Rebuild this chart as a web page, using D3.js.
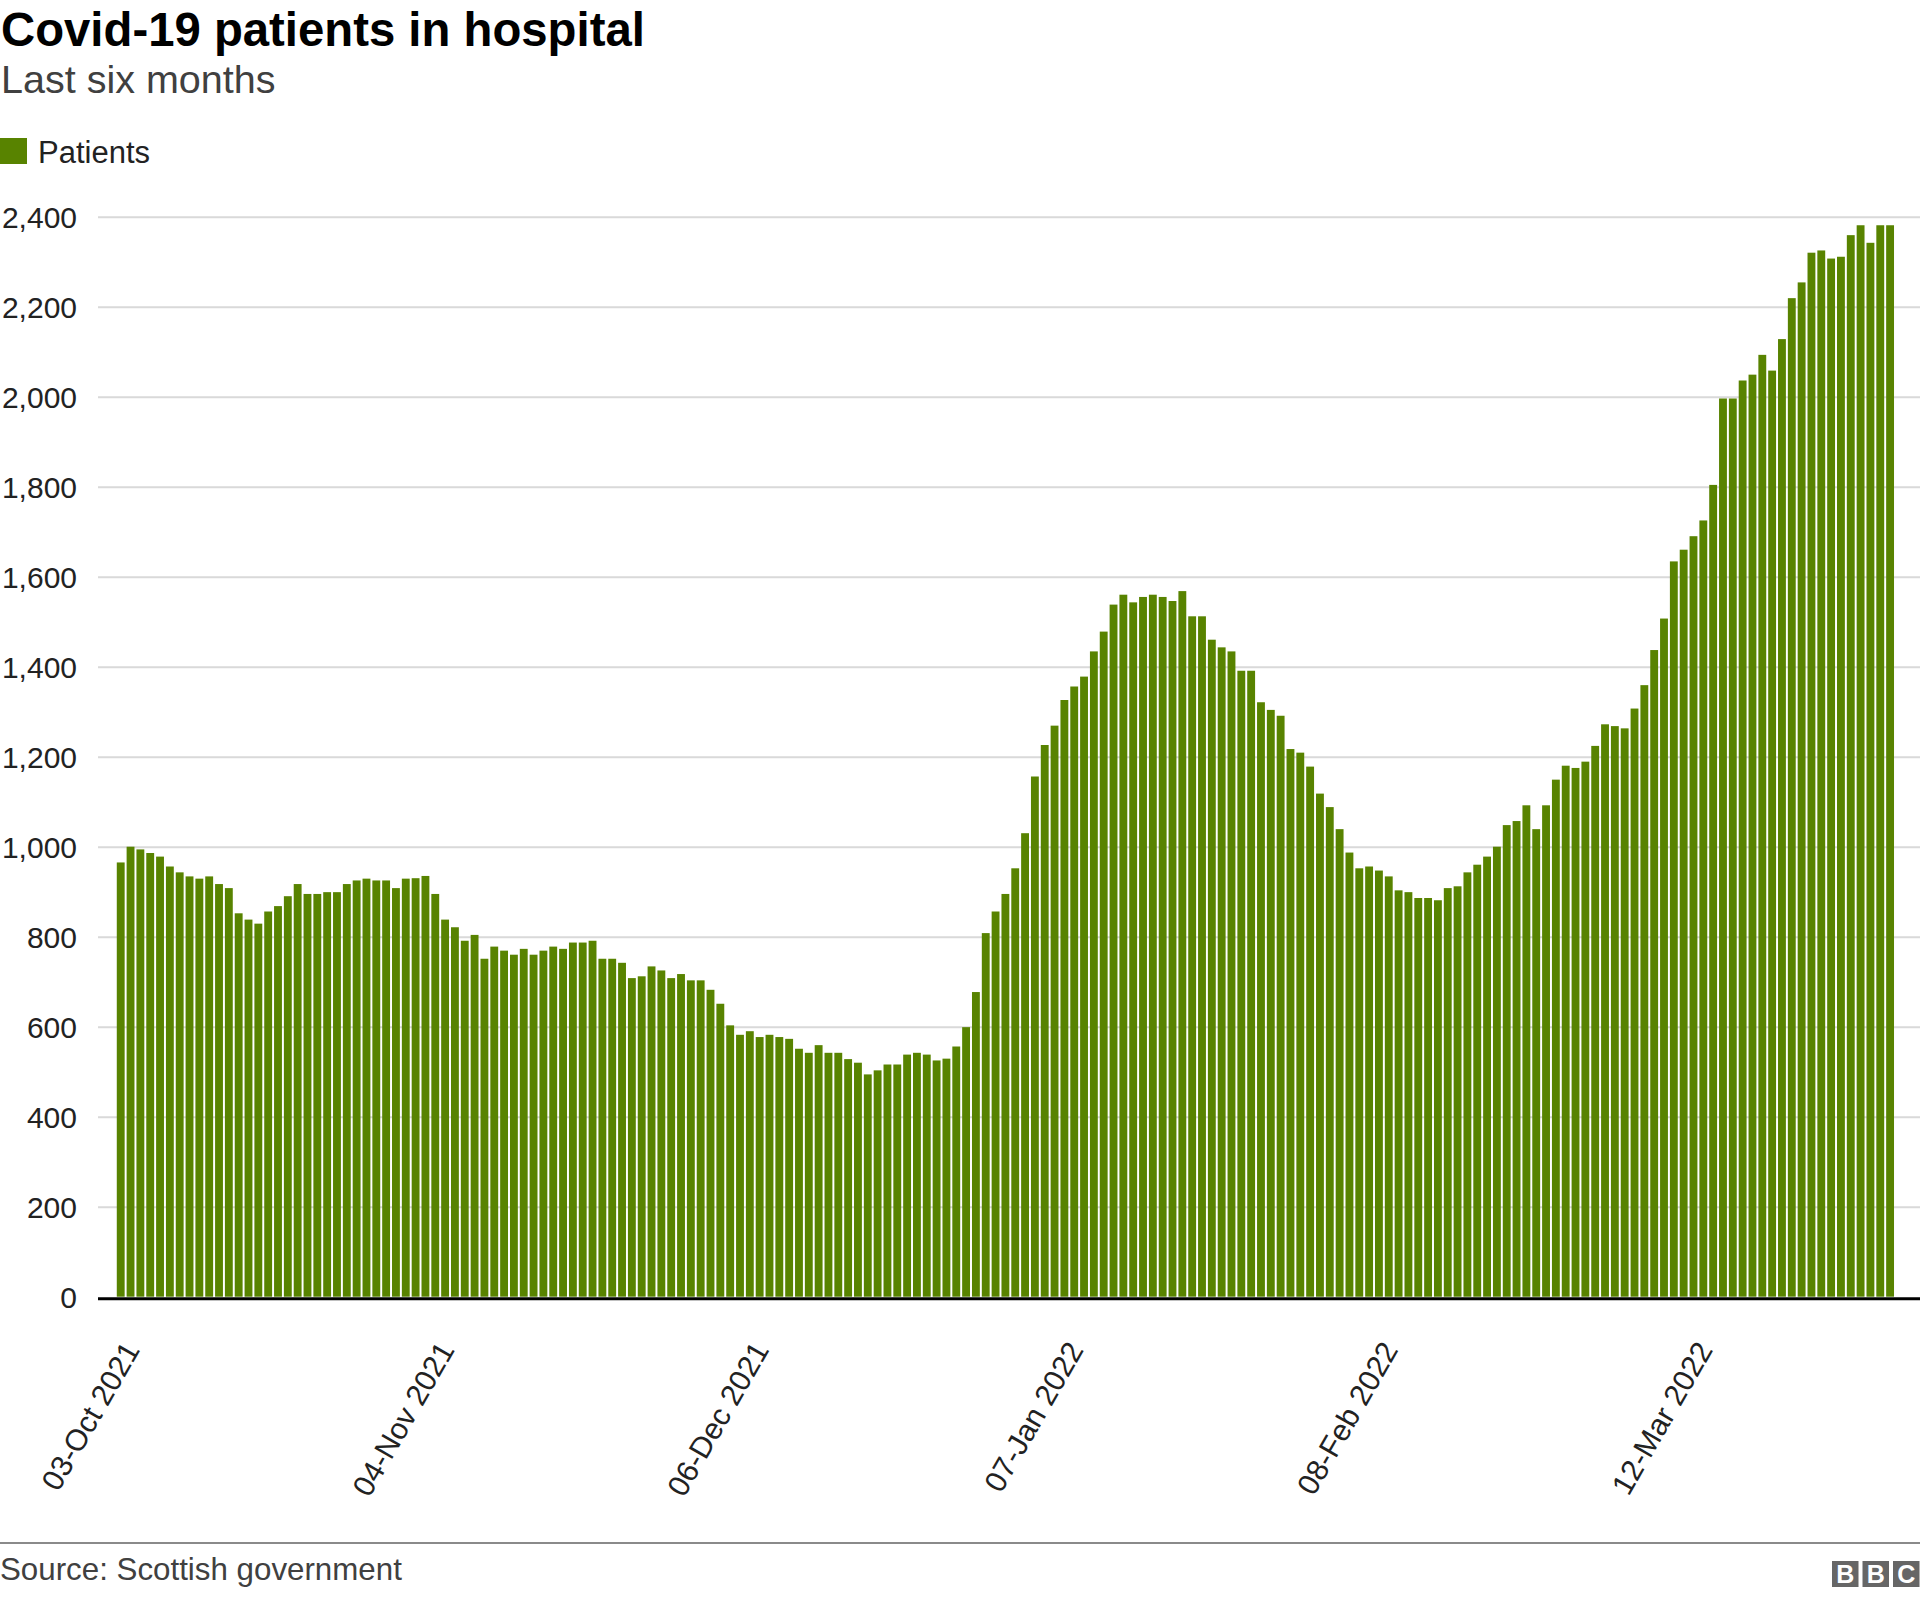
<!DOCTYPE html>
<html>
<head>
<meta charset="utf-8">
<script src="https://cdn.jsdelivr.net/npm/d3@7"></script>
<style>
  html, body { margin: 0; padding: 0; background: #fff; }
  svg { display: block; font-family: "Liberation Sans", Arial, Helvetica, sans-serif; }
</style>
</head>
<body>
<svg id="chart" width="1920" height="1597"></svg>
<script>
// ---- Data ----
const startDate = new Date(2021, 9, 3);
const endDate = new Date(2022, 3, 2); // exclusive
const categories = d3.timeDay.range(startDate, endDate); // 03-Oct 2021 .. 01-Apr 2022 daily

const patients = [
  965, 1000, 994, 986, 978, 956, 943, 934, 929, 934, 917, 908, 852, 838, 829, 856,
  868, 890, 917, 895, 895, 899, 899, 917, 925, 929, 925, 925, 908, 929, 930, 935,
  895, 838, 821, 791, 804, 751, 778, 769, 760, 773, 760, 769, 778, 773, 787, 787,
  791, 751, 751, 742, 708, 712, 734, 725, 708, 717, 703, 703, 682, 651, 603,
  582, 590, 577, 582, 577, 573, 551, 542, 559, 542, 542, 528, 520, 494, 503, 516,
  516, 538, 542, 538, 525, 529, 556, 599, 677, 808, 856, 895, 952, 1030,
  1156, 1226, 1269, 1326, 1356, 1378, 1434, 1478, 1538, 1560, 1543, 1555, 1560, 1555,
  1546, 1568, 1512, 1512, 1460, 1443, 1434, 1391, 1391, 1321, 1304, 1291, 1217, 1209,
  1178, 1118, 1088,
  1039, 987, 952, 956, 947, 934, 903, 899, 886, 886, 881, 908, 912, 943, 960, 978,
  1000, 1048, 1057, 1092, 1039, 1092, 1149, 1180, 1175, 1189, 1224, 1272, 1268, 1263,
  1307, 1359, 1437, 1507, 1634, 1660, 1690, 1725, 1804,
  1996, 1996, 2036, 2049, 2093, 2058, 2128, 2219, 2254, 2320, 2325, 2307, 2311, 2359,
  2381, 2342, 2381, 2381
];

const xTickLabels = ["03-Oct 2021", "04-Nov 2021", "06-Dec 2021", "07-Jan 2022", "08-Feb 2022", "12-Mar 2022"];
const yTicks = [0, 200, 400, 600, 800, 1000, 1200, 1400, 1600, 1800, 2000, 2200, 2400];

const title = "Covid-19 patients in hospital";
const subtitle = "Last six months";
const seriesName = "Patients";
const source = "Source: Scottish government";

// ---- Layout ----
const W = 1920, H = 1597;
const plotLeft = 98, plotRight = 1920;
const barLeft = 115.8, barRight = 1895;
const yTop = 216.7, yBottom = 1296.7;
const green = "#588300";

const fmtDate = d3.timeFormat("%d-%b %Y");
const keys = categories.map(fmtDate);
const data = keys.map((k, i) => ({ key: k, value: patients[i] }));

const svg = d3.select("#chart");

const x = d3.scaleBand().domain(keys).range([barLeft, barRight]).paddingInner(0.2).paddingOuter(0.1);
const y = d3.scaleLinear().domain([0, 2400]).range([yBottom, yTop]);

// Title
svg.append("text").attr("x", 1).attr("y", 46)
  .attr("font-size", 47.3).attr("font-weight", "bold").attr("fill", "#000")
  .text(title);
svg.append("text").attr("x", 1).attr("y", 93)
  .attr("font-size", 39.5).attr("fill", "#404040")
  .text(subtitle);

// Legend
svg.append("rect").attr("x", 0).attr("y", 138).attr("width", 27).attr("height", 26).attr("fill", green);
svg.append("text").attr("x", 38).attr("y", 163)
  .attr("font-size", 31).attr("fill", "#222").text(seriesName);

// Grid + y labels
const yAxis = d3.axisLeft(y).tickValues(yTicks).tickFormat(d3.format(",")).tickSize(0).tickPadding(0);
const gy = svg.append("g").attr("transform", `translate(${plotLeft},0)`).call(yAxis);
gy.select(".domain").remove();
gy.selectAll(".tick line").remove();
gy.selectAll(".tick text")
  .attr("x", 77 - plotLeft)
  .attr("dy", "0.35em")
  .attr("font-size", 30)
  .attr("fill", "#222")
  .attr("font-family", "Liberation Sans, Arial, sans-serif");
gy.selectAll(".tick").filter(d => d !== 0)
  .append("line")
  .attr("x1", 0).attr("x2", plotRight - plotLeft)
  .attr("stroke", "#d9d9d9").attr("stroke-width", 2);

// Bars
svg.append("g").selectAll("rect").data(data).join("rect")
  .attr("x", d => x(d.key))
  .attr("y", d => y(d.value))
  .attr("width", x.bandwidth())
  .attr("height", d => y(0) - y(d.value))
  .attr("fill", green);

// Baseline
svg.append("line").attr("x1", plotLeft).attr("x2", plotRight)
  .attr("y1", yBottom + 2).attr("y2", yBottom + 2)
  .attr("stroke", "#000").attr("stroke-width", 3);

// X labels
const xAxis = d3.axisBottom(x).tickValues(xTickLabels).tickSize(0).tickPadding(0);
const gx = svg.append("g").attr("transform", `translate(0,${yBottom})`).call(xAxis);
gx.select(".domain").remove();
gx.selectAll(".tick text")
  .attr("font-size", 30)
  .attr("fill", "#222")
  .attr("font-family", "Liberation Sans, Arial, sans-serif")
  .attr("text-anchor", "end")
  .attr("dy", 0)
  .attr("y", 0)
  .attr("transform", "translate(20,53) rotate(-60)");

// Footer
svg.append("line").attr("x1", 0).attr("x2", W).attr("y1", 1543).attr("y2", 1543)
  .attr("stroke", "#8a8a8a").attr("stroke-width", 2);
svg.append("text").attr("x", 0).attr("y", 1580)
  .attr("font-size", 31.3).attr("fill", "#404040").text(source);

// BBC logo
const logoLetters = ["B", "B", "C"];
const logo = svg.append("g").attr("transform", "translate(1832,1561)");
logoLetters.forEach((ch, i) => {
  logo.append("rect").attr("x", i * 30.5).attr("y", 0).attr("width", 26.5).attr("height", 26).attr("fill", "#666");
  logo.append("text").attr("x", i * 30.5 + 13.25).attr("y", 22)
    .attr("text-anchor", "middle").attr("font-size", 25).attr("font-weight", "bold")
    .attr("fill", "#fff").text(ch);
});
</script>
</body>
</html>
